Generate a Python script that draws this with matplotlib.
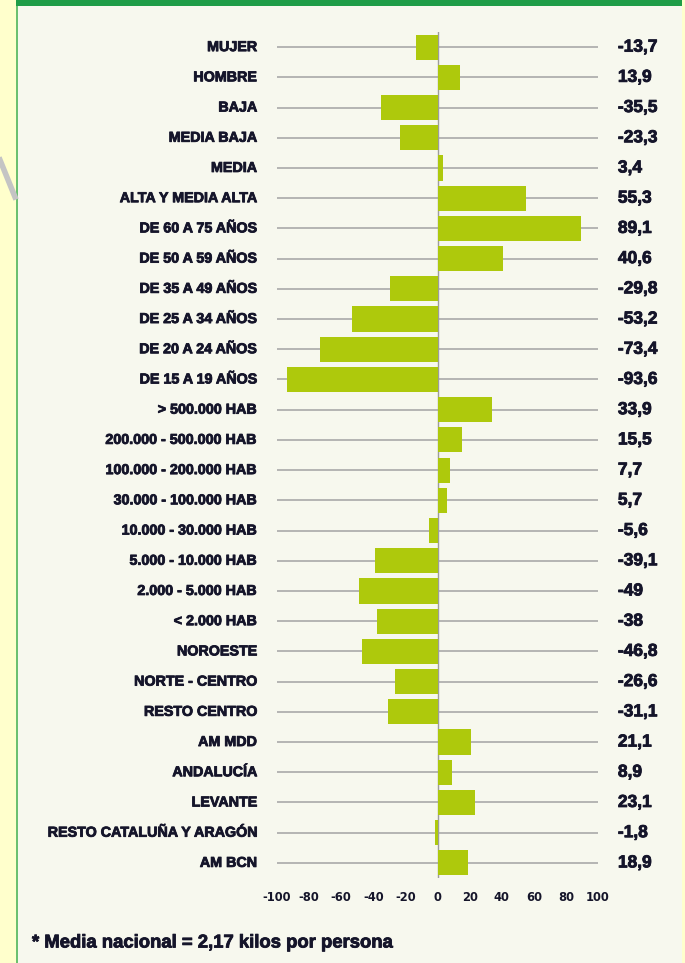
import matplotlib
matplotlib.use("Agg")
import matplotlib.pyplot as plt
import matplotlib.patheffects as pe
from matplotlib.patches import Rectangle
from matplotlib.lines import Line2D

# Categorías y desviación respecto a la media nacional (%)
categorias = ['MUJER', 'HOMBRE', 'BAJA', 'MEDIA BAJA', 'MEDIA', 'ALTA Y MEDIA ALTA',
              'DE 60 A 75 AÑOS', 'DE 50 A 59 AÑOS', 'DE 35 A 49 AÑOS', 'DE 25 A 34 AÑOS',
              'DE 20 A 24 AÑOS', 'DE 15 A 19 AÑOS', '> 500.000 HAB', '200.000 - 500.000 HAB',
              '100.000 - 200.000 HAB', '30.000 - 100.000 HAB', '10.000 - 30.000 HAB',
              '5.000 - 10.000 HAB', '2.000 - 5.000 HAB', '< 2.000 HAB', 'NOROESTE',
              'NORTE - CENTRO', 'RESTO CENTRO', 'AM MDD', 'ANDALUCÍA', 'LEVANTE',
              'RESTO CATALUÑA Y ARAGÓN', 'AM BCN']
valores = [-13.7, 13.9, -35.5, -23.3, 3.4, 55.3, 89.1, 40.6, -29.8, -53.2, -73.4, -93.6,
           33.9, 15.5, 7.7, 5.7, -5.6, -39.1, -49, -38, -46.8, -26.6, -31.1, 21.1, 8.9,
           23.1, -1.8, 18.9]
ticks = [-100, -80, -60, -40, -20, 0, 20, 40, 60, 80, 100]

W, H = 685, 963
fondo = '#f7f8ee'
verde_barra = '#aec90c'
texto = '#15152a'
grueso = [pe.withStroke(linewidth=0.6, foreground=texto)]

fig = plt.figure(figsize=(W / 100, H / 100), dpi=100)
fig.patch.set_facecolor(fondo)

# marco: franja amarilla izquierda, línea verde, barra superior
fig.add_artist(Rectangle((0, 0), 16 / W, 1, transform=fig.transFigure, color='#ffffcc', lw=0))
fig.add_artist(Rectangle((682 / W, 0), 3 / W, 1, transform=fig.transFigure, color='#ffffcc', lw=0))
fig.add_artist(Rectangle((16 / W, 0), 2.5 / W, 1, transform=fig.transFigure, color='#6cc070', lw=0))
fig.add_artist(Rectangle((16 / W, 1 - 6 / H), 666 / W, 6 / H, transform=fig.transFigure,
                         color='#1f9d48', lw=0))
fig.add_artist(Line2D([0, 15 / W], [1 - 160 / H, 1 - 197 / H], transform=fig.transFigure,
                      color='#c4c4c4', lw=4))

ax = fig.add_axes([277 / W, 1 - 878 / H, 321 / W, (878 - 32) / H])
ax.set_facecolor('none')
n = len(categorias)
pos = list(range(n))

ax.hlines(pos, -100, 100, color='#a9a9a9', lw=1.2, zorder=1)
ax.axvline(0, color='#9c9c9c', lw=1, zorder=1)
ax.barh(pos, valores, height=0.83, color=verde_barra, zorder=2)

ax.set_xlim(-100, 100)
ax.set_ylim(n - 0.5, -0.5)
for s in ax.spines.values():
    s.set_visible(False)
ax.set_yticks([])
ax.set_xticks(ticks)
ax.set_xticklabels([str(t) for t in ticks], fontsize=8.3, fontweight='bold',
                   color=texto, family='Liberation Sans Narrow')
ax.tick_params(axis='x', length=0, pad=9)

for i, (c, v) in enumerate(zip(categorias, valores)):
    ax.text(-0.062, i, c, transform=ax.get_yaxis_transform(), ha='right', va='center',
            fontsize=10.3, fontweight='bold', color=texto, family='Liberation Sans',
            path_effects=grueso)
    etiqueta = ('%g' % v).replace('.', ',')
    ax.text(1.062, i, etiqueta, transform=ax.get_yaxis_transform(), ha='left', va='center',
            fontsize=12.5, fontweight='bold', color=texto, family='Liberation Sans',
            path_effects=grueso)

fig.text(32 / W, 1 - 943 / H, '* Media nacional = 2,17 kilos por persona', ha='left',
         va='center', fontsize=13.3, fontweight='bold', color=texto, family='Liberation Sans',
         path_effects=grueso)

fig.savefig('out.png', dpi=100, facecolor=fig.get_facecolor())
